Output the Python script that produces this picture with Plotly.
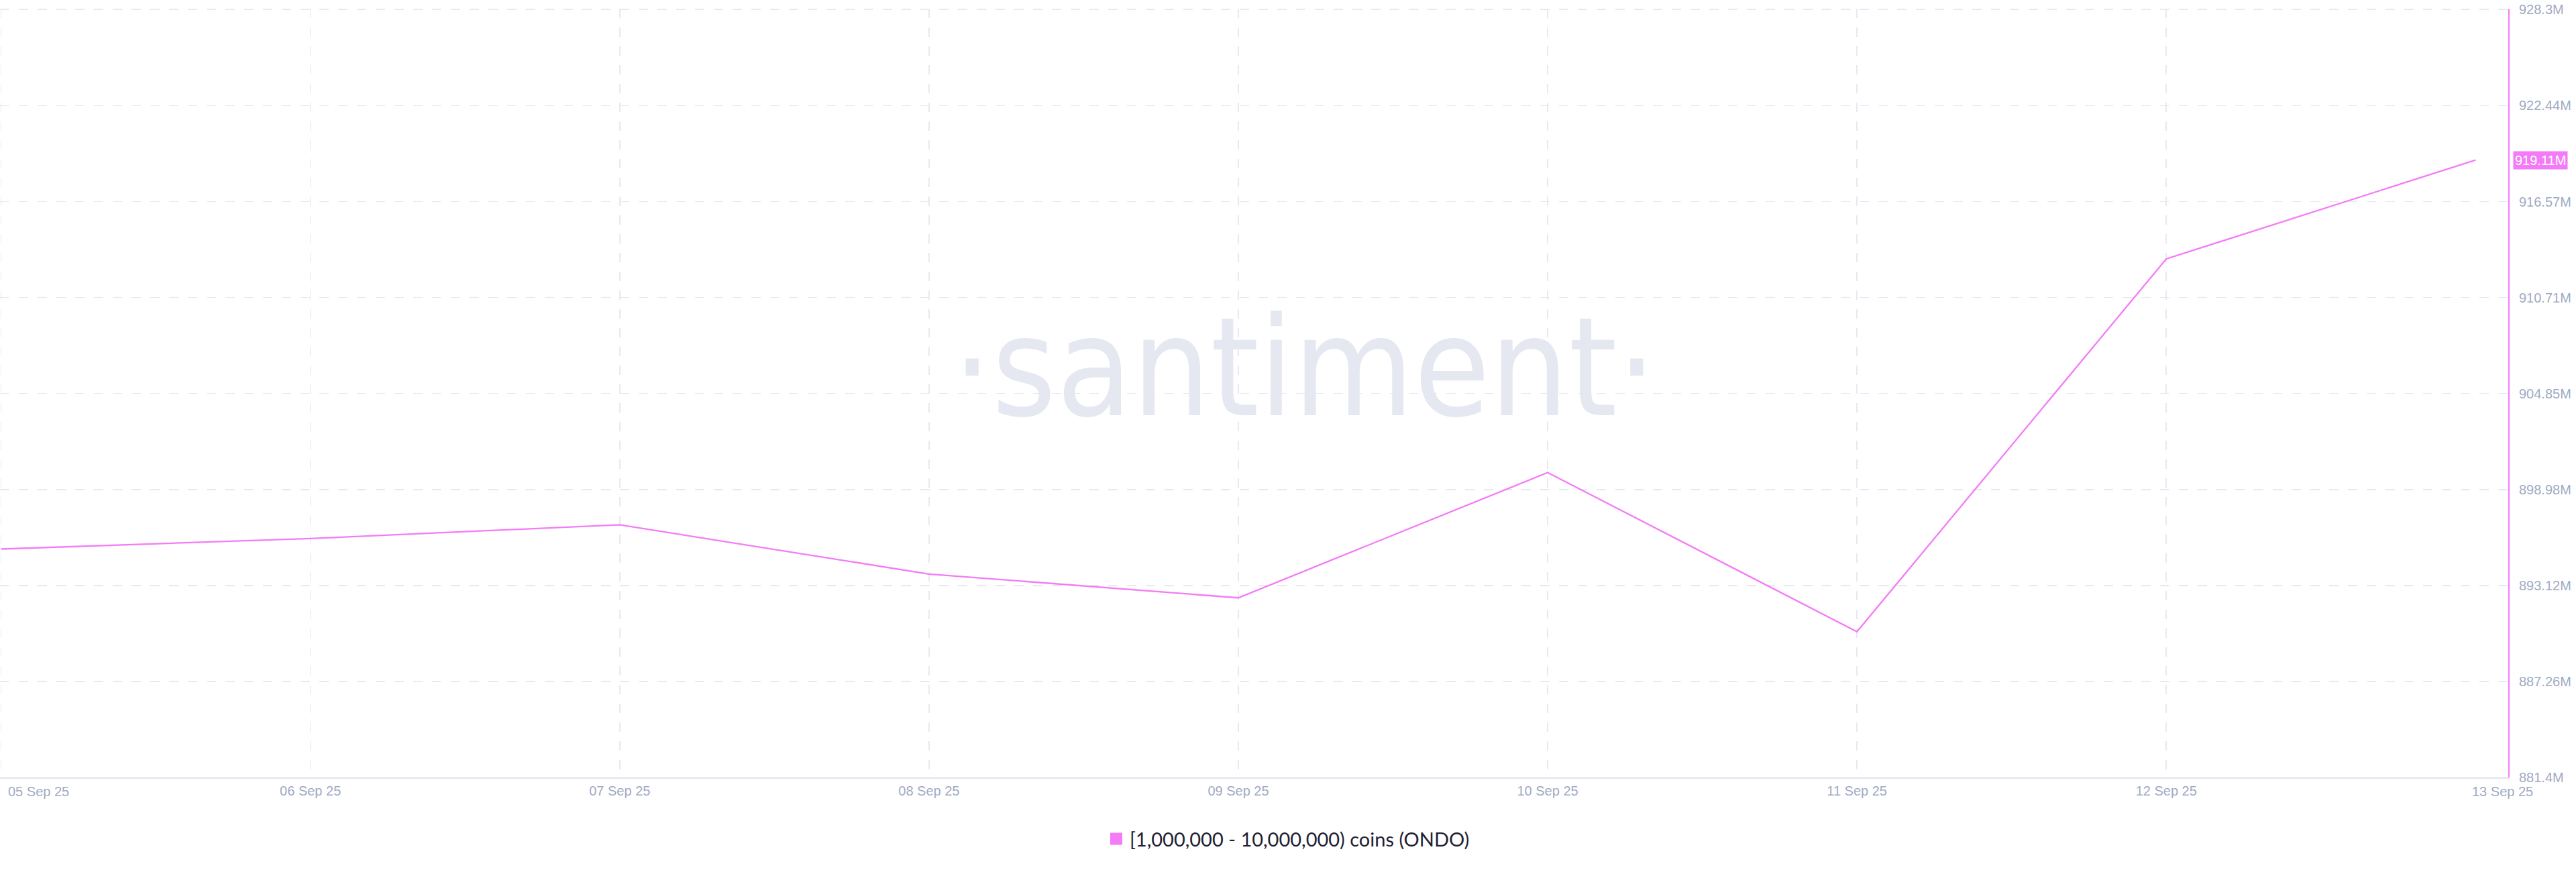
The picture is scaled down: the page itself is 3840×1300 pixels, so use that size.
import plotly.graph_objects as go

# ---- data ----
dates = ["2025-09-05", "2025-09-06", "2025-09-07", "2025-09-08", "2025-09-09",
         "2025-09-10", "2025-09-11", "2025-09-12", "2025-09-13"]
date_labels = ["05 Sep 25", "06 Sep 25", "07 Sep 25", "08 Sep 25", "09 Sep 25",
               "10 Sep 25", "11 Sep 25", "12 Sep 25", "13 Sep 25"]
# supply held by [1M - 10M) ONDO wallets, in millions of ONDO
holdings_m = [895.35, 895.99, 896.83, 893.82, 892.37, 900.02, 890.30, 913.07, 919.11]
y_ticks = [881.4, 887.26, 893.12, 898.98, 904.85, 910.71, 916.57, 922.44, 928.3]
y_tick_text = ["881.4M", "887.26M", "893.12M", "898.98M", "904.85M",
               "910.71M", "916.57M", "922.44M", "928.3M"]
series_name = "[1,000,000 - 10,000,000) coins (ONDO)"

PINK = "#F47BF7"
TICK = "#9FAAC4"
GRID = "#E7E9F2"

fig = go.Figure()
fig.add_trace(go.Scatter(
    x=dates, y=holdings_m, mode="lines",
    line=dict(color=PINK, width=2.3),
    showlegend=False, hoverinfo="skip",
))
# legend entry (square swatch)
fig.add_trace(go.Scatter(
    x=[None], y=[None], mode="markers", name=series_name,
    marker=dict(symbol="square", size=16, color=PINK, line=dict(color=PINK, width=2)),
    showlegend=True,
))

annotations = [
    # watermark
    dict(text="·santiment·", xref="paper", yref="paper", x=0.520, y=0.533,
         xanchor="center", yanchor="middle", showarrow=False,
         font=dict(family="DejaVu Sans Condensed, Noto Sans", size=205, color="#E6E8F1")),
    # current value tag
    dict(text=f"{holdings_m[-1]:.2f}M", xref="paper", yref="y", x=1, y=holdings_m[-1],
         xanchor="left", yanchor="middle", showarrow=False, xshift=7,
         bgcolor=PINK, borderpad=2,
         font=dict(family="Liberation Sans", size=20, color="white")),
    # edge date labels
    dict(text=date_labels[0], xref="x", yref="paper", x=dates[0], y=0,
         xanchor="left", yanchor="middle", showarrow=False, xshift=8, yshift=-21,
         font=dict(family="Liberation Sans", size=20, color=TICK)),
    dict(text=date_labels[-1], xref="x", yref="paper", x=dates[-1], y=0,
         xanchor="center", yanchor="middle", showarrow=False, xshift=40, yshift=-21,
         font=dict(family="Liberation Sans", size=20, color=TICK)),
]

fig.update_layout(
    width=3840, height=1300, autosize=False,
    margin=dict(l=0, r=101, t=13, b=141),
    paper_bgcolor="white", plot_bgcolor="white",
    showlegend=True,
    legend=dict(orientation="h", x=0.5135, xanchor="center", y=-0.080, yanchor="middle",
                font=dict(family="Lato", size=29, color="#1F2233"),
                itemclick=False, itemdoubleclick=False),
    annotations=annotations,
    xaxis=dict(
        type="date",
        range=["2025-09-04 23:55", "2025-09-13 02:32"],
        tickmode="array", tickvals=dates[:-1], ticktext=[""] + date_labels[1:-1],
        ticks="", ticklabelstandoff=1,
        tickfont=dict(family="Liberation Sans", size=20, color=TICK),
        showgrid=True, gridcolor=GRID, gridwidth=1.5, griddash="14px,14px",
        showline=True, linecolor="#E0E4EE", linewidth=2,
        zeroline=False, fixedrange=True,
    ),
    yaxis=dict(
        side="right",
        range=[y_ticks[0] - 0.001, y_ticks[-1] + 0.05],
        tickmode="array", tickvals=y_ticks, ticktext=y_tick_text,
        ticks="", ticklabelstandoff=10,
        tickfont=dict(family="Liberation Sans", size=20, color=TICK),
        showgrid=True, gridcolor=GRID, gridwidth=1.5, griddash="14px,14px",
        showline=True, linecolor=PINK, linewidth=2,
        zeroline=False, fixedrange=True,
    ),
)

fig.write_html(
    "out.html",
    config={"displayModeBar": False, "staticPlot": True},
    post_script="document.body.style.margin='0';document.body.style.overflow='hidden';",
)
